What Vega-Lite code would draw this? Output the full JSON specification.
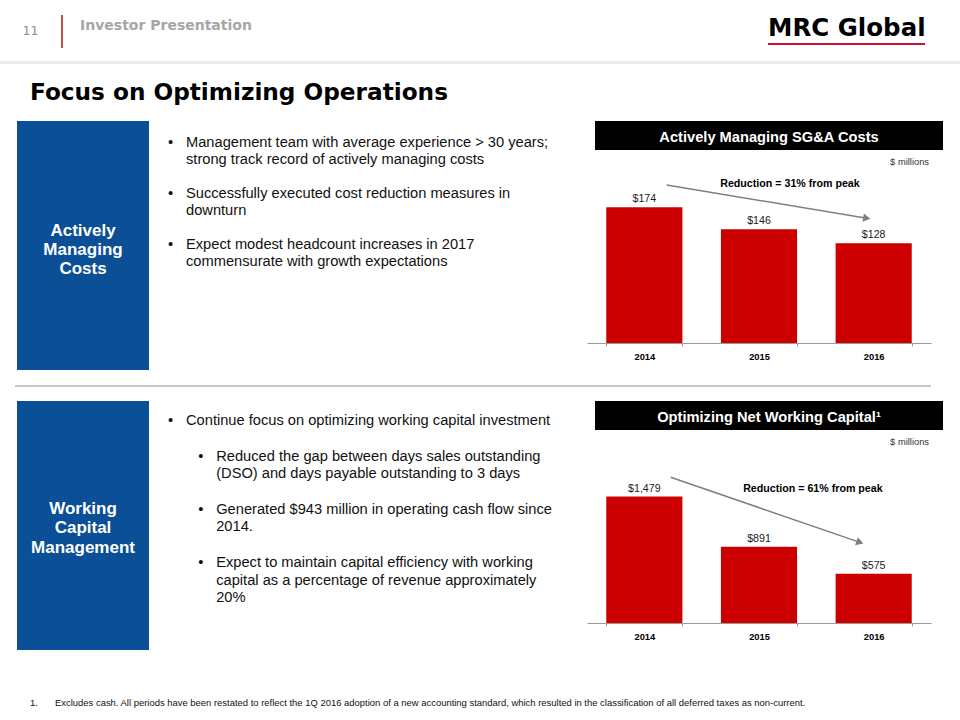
{
  "$schema": "https://vega.github.io/schema/vega-lite/v6.json",
  "background": "white",
  "padding": 0,
  "spacing": 0,
  "config": {"view": {"stroke": null}, "font": "Liberation Sans", "text": {"font": "Liberation Sans"}},
  "vconcat": [
    {
      "spacing": 0,
      "hconcat": [
        {"width": 61, "height": 61, "data": {"values": [{"t": "11"}]}, "mark": {"type": "text", "font": "DejaVu Sans", "fontSize": 12.5, "color": "#8c8c8c"}, "encoding": {"text": {"field": "t"}}},
        {"spacing": 0, "vconcat": [
          {"width": 2, "height": 15, "data": {"values": []}, "mark": {"type": "text"}},
          {"width": 2, "height": 33, "view": {"fill": "#c0504d"}, "data": {"values": []}, "mark": {"type": "text"}}
        ]},
        {"width": 17, "height": 10, "data": {"values": []}, "mark": {"type": "text"}},
        {"width": 688, "height": 52, "data": {"values": [{"t": "Investor Presentation"}]}, "mark": {"type": "text", "align": "left", "font": "DejaVu Sans", "fontWeight": "bold", "fontSize": 14, "color": "#a6a6a6"}, "encoding": {"text": {"field": "t"}, "x": {"datum": 0, "type": "quantitative", "scale": {"domain": [0, 1]}, "axis": null}}},
        {"spacing": 0, "vconcat": [
          {"width": 160, "height": 14, "data": {"values": []}, "mark": {"type": "text"}},
          {"width": 160, "height": 29, "data": {"values": [{"t": "MRC Global"}]}, "mark": {"type": "text", "align": "left", "font": "DejaVu Sans", "fontWeight": "bold", "fontSize": 24.5, "color": "#000"}, "encoding": {"text": {"field": "t"}, "x": {"datum": 0, "type": "quantitative", "scale": {"domain": [0, 1]}, "axis": null}}},
          {"width": 157, "height": 2, "view": {"fill": "#c8102e"}, "data": {"values": []}, "mark": {"type": "text"}}
        ]}
      ]
    },
    {"width": 960, "height": 3, "view": {"fill": "#ebebeb"}, "data": {"values": []}, "mark": {"type": "text"}},
    {
      "spacing": 0,
      "hconcat": [
        {"width": 30, "height": 57, "data": {"values": []}, "mark": {"type": "text"}},
        {"width": 900, "height": 57, "data": {"values": [{"t": "Focus on Optimizing Operations"}]}, "mark": {"type": "text", "align": "left", "font": "DejaVu Sans", "fontWeight": "bold", "fontSize": 23.2, "color": "#000"}, "encoding": {"text": {"field": "t"}, "x": {"datum": 0, "type": "quantitative", "scale": {"domain": [0, 1]}, "axis": null}}}
      ]
    },
    {
      "spacing": 0,
      "hconcat": [
        {"width": 17, "height": 249, "data": {"values": []}, "mark": {"type": "text"}},
        {"width": 132, "height": 249, "view": {"fill": "#0b4f96"}, "data": {"values": [{"t": "Actively\nManaging\nCosts"}]}, "mark": {"type": "text", "lineBreak": "\n", "lineHeight": 19, "fontSize": 17, "fontWeight": "bold", "color": "white", "dy": -15}, "encoding": {"text": {"field": "t"}}},
        {
          "width": 438, "height": 249,
          "data": {"values": [
            {"line": 0, "level": 0, "bullet": true, "text": "Management team with average experience > 30 years;"},
            {"line": 1, "level": 0, "bullet": false, "text": "strong track record of actively managing costs"},
            {"line": 3, "level": 0, "bullet": true, "text": "Successfully executed cost reduction measures in"},
            {"line": 4, "level": 0, "bullet": false, "text": "downturn"},
            {"line": 6, "level": 0, "bullet": true, "text": "Expect modest headcount increases in 2017"},
            {"line": 7, "level": 0, "bullet": false, "text": "commensurate with growth expectations"}
          ]},
          "encoding": {
            "x": {"field": "level", "type": "quantitative", "scale": {"domain": [0, 1], "range": [21.5, 51.7]}, "axis": null},
            "y": {"field": "line", "type": "quantitative", "scale": {"domain": [0, 10], "range": [21.9, 191.9]}, "axis": null}
          },
          "layer": [
            {"transform": [{"filter": "datum.bullet"}], "mark": {"type": "text", "text": "•", "fontSize": 14.67, "align": "center", "color": "#111"}},
            {"mark": {"type": "text", "align": "left", "dx": 15.5, "fontSize": 14.67, "color": "#111"}, "encoding": {"text": {"field": "text"}}}
          ]
        },
        {
          "spacing": 0,
          "vconcat": [
            {"spacing": 0, "hconcat": [
              {"width": 8, "height": 29, "data": {"values": []}, "mark": {"type": "text"}},
              {"width": 348, "height": 29, "view": {"fill": "#000"}, "data": {"values": [{"t": "Actively Managing SG&A Costs"}]}, "mark": {"type": "text", "fontSize": 14.67, "fontWeight": "bold", "color": "white", "dy": 2}, "encoding": {"text": {"field": "t"}}}
            ]},
            {"width": 342, "height": 24, "data": {"values": [{"t": "$ millions"}]}, "mark": {"type": "text", "align": "right", "fontSize": 9.33, "color": "#333"}, "encoding": {"text": {"field": "t"}, "x": {"datum": 1, "type": "quantitative", "scale": {"domain": [0, 1]}, "axis": null}}},
            {
              "width": 344, "height": 169,
              "resolve": {"scale": {"x": "independent"}, "axis": {"x": "independent"}},
              "layer": [
                {
                  "data": {"values": [
                    {"year": "2014", "value": 174, "label": "$174"},
                    {"year": "2015", "value": 146, "label": "$146"},
                    {"year": "2016", "value": 128, "label": "$128"}
                  ]},
                  "encoding": {
                    "x": {"field": "year", "type": "nominal", "scale": {"paddingInner": 0.336, "paddingOuter": 0.168}, "axis": {"title": null, "labelAngle": 0, "labelFontWeight": "bold", "labelFontSize": 9.33, "labelColor": "#000", "labelPadding": 6, "domainColor": "#9a9a9a", "tickColor": "#9a9a9a", "tickSize": 3, "tickBand": "extent", "grid": false}},
                    "y": {"field": "value", "type": "quantitative", "scale": {"domain": [0, 216.7], "nice": false}, "axis": null}
                  },
                  "layer": [
                    {"mark": {"type": "bar", "color": "#cc0000"}},
                    {"mark": {"type": "text", "dy": -8, "fontSize": 10.67, "color": "#1a1a1a"}, "encoding": {"text": {"field": "label"}}}
                  ]
                },
                {
                  "data": {"values": [{"pos": 2014.195, "value": 202.6}, {"pos": 2015.94, "value": 160.0}]},
                  "encoding": {
                    "x": {"field": "pos", "type": "quantitative", "scale": {"domain": [2013.5, 2016.5], "nice": false, "zero": false}, "axis": null},
                    "y": {"field": "value", "type": "quantitative", "scale": {"domain": [0, 216.7], "nice": false}, "axis": null}
                  },
                  "layer": [
                    {"mark": {"type": "line", "color": "#7f7f7f", "strokeWidth": 1.5}},
                    {"transform": [{"filter": "datum.pos > 2015"}], "mark": {"type": "point", "shape": "triangle-right", "filled": true, "size": 70, "angle": 9.4, "color": "#7f7f7f", "opacity": 1}}
                  ]
                },
                {
                  "data": {"values": [{"pos": 2015.27, "value": 203.8, "t": "Reduction = 31% from peak"}]},
                  "mark": {"type": "text", "fontSize": 10.67, "fontWeight": "bold", "color": "#000"},
                  "encoding": {
                    "x": {"field": "pos", "type": "quantitative", "scale": {"domain": [2013.5, 2016.5], "nice": false, "zero": false}, "axis": null},
                    "y": {"field": "value", "type": "quantitative", "scale": {"domain": [0, 216.7], "nice": false}, "axis": null},
                    "text": {"field": "t"}
                  }
                }
              ]
            }
          ]
        }
      ]
    },
    {
      "spacing": 0,
      "vconcat": [
        {"width": 10, "height": 15, "data": {"values": []}, "mark": {"type": "text"}},
        {"spacing": 0, "hconcat": [
          {"width": 15, "height": 2, "data": {"values": []}, "mark": {"type": "text"}},
          {"width": 916, "height": 2, "view": {"fill": "#c8c8c8"}, "data": {"values": []}, "mark": {"type": "text"}}
        ]},
        {"width": 10, "height": 14, "data": {"values": []}, "mark": {"type": "text"}}
      ]
    },
    {
      "spacing": 0,
      "hconcat": [
        {"width": 17, "height": 249, "data": {"values": []}, "mark": {"type": "text"}},
        {"width": 132, "height": 249, "view": {"fill": "#0b4f96"}, "data": {"values": [{"t": "Working\nCapital\nManagement"}]}, "mark": {"type": "text", "lineBreak": "\n", "lineHeight": 19.5, "fontSize": 17, "fontWeight": "bold", "color": "white", "dy": -17}, "encoding": {"text": {"field": "t"}}},
        {
          "width": 438, "height": 249,
          "data": {"values": [
            {"line": 0, "level": 0, "bullet": true, "text": "Continue focus on optimizing working capital investment"},
            {"line": 2, "level": 1, "bullet": true, "text": "Reduced the gap between days sales outstanding"},
            {"line": 3, "level": 1, "bullet": false, "text": "(DSO) and days payable outstanding to 3 days"},
            {"line": 5, "level": 1, "bullet": true, "text": "Generated $943 million in operating cash flow since"},
            {"line": 6, "level": 1, "bullet": false, "text": "2014."},
            {"line": 8, "level": 1, "bullet": true, "text": "Expect to maintain capital efficiency with working"},
            {"line": 9, "level": 1, "bullet": false, "text": "capital as a percentage of revenue approximately"},
            {"line": 10, "level": 1, "bullet": false, "text": "20%"}
          ]},
          "encoding": {
            "x": {"field": "level", "type": "quantitative", "scale": {"domain": [0, 1], "range": [21.5, 51.7]}, "axis": null},
            "y": {"field": "line", "type": "quantitative", "scale": {"domain": [0, 10], "range": [20.2, 197.2]}, "axis": null}
          },
          "layer": [
            {"transform": [{"filter": "datum.bullet"}], "mark": {"type": "text", "text": "•", "fontSize": 14.67, "align": "center", "color": "#111"}},
            {"mark": {"type": "text", "align": "left", "dx": 15.5, "fontSize": 14.67, "color": "#111"}, "encoding": {"text": {"field": "text"}}}
          ]
        },
        {
          "spacing": 0,
          "vconcat": [
            {"spacing": 0, "hconcat": [
              {"width": 8, "height": 29, "data": {"values": []}, "mark": {"type": "text"}},
              {"width": 348, "height": 29, "view": {"fill": "#000"}, "data": {"values": [{"t": "Optimizing Net Working Capital¹"}]}, "mark": {"type": "text", "fontSize": 14.67, "fontWeight": "bold", "color": "white", "dy": 2}, "encoding": {"text": {"field": "t"}}}
            ]},
            {"width": 342, "height": 24, "data": {"values": [{"t": "$ millions"}]}, "mark": {"type": "text", "align": "right", "fontSize": 9.33, "color": "#333"}, "encoding": {"text": {"field": "t"}, "x": {"datum": 1, "type": "quantitative", "scale": {"domain": [0, 1]}, "axis": null}}},
            {
              "width": 344, "height": 169,
              "resolve": {"scale": {"x": "independent"}, "axis": {"x": "independent"}},
              "layer": [
                {
                  "data": {"values": [
                    {"year": "2014", "value": 1479, "label": "$1,479"},
                    {"year": "2015", "value": 891, "label": "$891"},
                    {"year": "2016", "value": 575, "label": "$575"}
                  ]},
                  "encoding": {
                    "x": {"field": "year", "type": "nominal", "scale": {"paddingInner": 0.336, "paddingOuter": 0.168}, "axis": {"title": null, "labelAngle": 0, "labelFontWeight": "bold", "labelFontSize": 9.33, "labelColor": "#000", "labelPadding": 6, "domainColor": "#9a9a9a", "tickColor": "#9a9a9a", "tickSize": 3, "tickBand": "extent", "grid": false}},
                    "y": {"field": "value", "type": "quantitative", "scale": {"domain": [0, 1976.6], "nice": false}, "axis": null}
                  },
                  "layer": [
                    {"mark": {"type": "bar", "color": "#cc0000"}},
                    {"mark": {"type": "text", "dy": -8, "fontSize": 10.67, "color": "#1a1a1a"}, "encoding": {"text": {"field": "label"}}}
                  ]
                },
                {
                  "data": {"values": [{"pos": 2014.23, "value": 1704}, {"pos": 2015.88, "value": 942.7}]},
                  "encoding": {
                    "x": {"field": "pos", "type": "quantitative", "scale": {"domain": [2013.5, 2016.5], "nice": false, "zero": false}, "axis": null},
                    "y": {"field": "value", "type": "quantitative", "scale": {"domain": [0, 1976.6], "nice": false}, "axis": null}
                  },
                  "layer": [
                    {"mark": {"type": "line", "color": "#7f7f7f", "strokeWidth": 1.5}},
                    {"transform": [{"filter": "datum.pos > 2015"}], "mark": {"type": "point", "shape": "triangle-right", "filled": true, "size": 70, "angle": 19, "color": "#7f7f7f", "opacity": 1}}
                  ]
                },
                {
                  "data": {"values": [{"pos": 2015.47, "value": 1567, "t": "Reduction = 61% from peak"}]},
                  "mark": {"type": "text", "fontSize": 10.67, "fontWeight": "bold", "color": "#000"},
                  "encoding": {
                    "x": {"field": "pos", "type": "quantitative", "scale": {"domain": [2013.5, 2016.5], "nice": false, "zero": false}, "axis": null},
                    "y": {"field": "value", "type": "quantitative", "scale": {"domain": [0, 1976.6], "nice": false}, "axis": null},
                    "text": {"field": "t"}
                  }
                }
              ]
            }
          ]
        }
      ]
    },
    {
      "spacing": 0,
      "vconcat": [
        {"width": 10, "height": 43, "data": {"values": []}, "mark": {"type": "text"}},
        {"spacing": 0, "hconcat": [
          {"width": 30, "height": 20, "data": {"values": []}, "mark": {"type": "text"}},
          {"width": 25, "height": 20, "data": {"values": [{"t": "1."}]}, "mark": {"type": "text", "align": "left", "fontSize": 9.45, "color": "#111"}, "encoding": {"text": {"field": "t"}, "x": {"datum": 0, "type": "quantitative", "scale": {"domain": [0, 1]}, "axis": null}}},
          {"width": 880, "height": 20, "data": {"values": [{"t": "Excludes cash.  All periods have been restated to reflect the 1Q 2016 adoption of a new accounting standard, which  resulted in  the classification of all deferred taxes as non-current."}]}, "mark": {"type": "text", "align": "left", "fontSize": 9.45, "color": "#111"}, "encoding": {"text": {"field": "t"}, "x": {"datum": 0, "type": "quantitative", "scale": {"domain": [0, 1]}, "axis": null}}}
        ]}
      ]
    }
  ]
}
